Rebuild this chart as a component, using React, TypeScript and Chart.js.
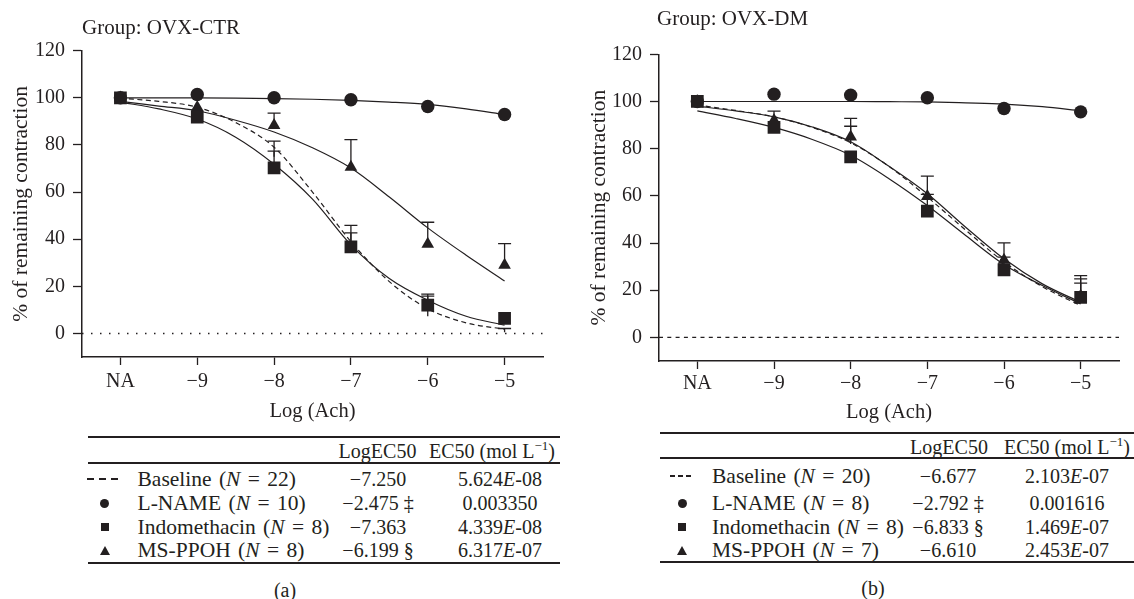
import React, { useEffect, useRef } from 'react';
import { Chart, registerables } from 'chart.js';

Chart.register(...registerables);

const FONT = '"Liberation Serif", "Times New Roman", serif';
const INK = '#231f20';

// ---------- shared axes ----------
const xMin = -10.5;
const xMax = -4.5;
const yMin = -10;
const yMax = 120;
const xValues = [-10, -9, -8, -7, -6, -5];
const xTickLabels = ['NA', '−9', '−8', '−7', '−6', '−5'];
const yTickValues = [0, 20, 40, 60, 80, 100, 120];
const curveX = [-10, -9.5, -9, -8.5, -8, -7.5, -7, -6.5, -6, -5.5, -5];

// ---------- panel (a) OVX-CTR ----------
const lnameA = [100, 101.4, 100, 99.2, 96.3, 92.9];
const indoA = [100, 91.8, 70.3, 36.7, 12.0, 6.4];
const msppohA = [100, 96, 88.3, 70.6, 37.9, 29];
const baselineA = [100, 96, 75, 39, 7.3, 0.5];
const indoSemA = [0, 0, 7.1, 6, 4.7, 0];
const msppohSemA = [0, 0, 5.2, 11.7, 9.3, 9.1];
const baselineSemA = [0, 0, 6.6, 6.9, 8.5, 1.6];
const lnameCurveA = [100, 100, 100, 99.9, 99.7, 99.4, 98.9, 98.2, 97.2, 95.3, 92.9];
const indoCurveA = [98.2, 95.3, 91.0, 83.3, 71.8, 57, 37.6, 23.3, 14.1, 7.3, 3.5];
const baselineCurveA = [99.8, 98.5, 96, 89.5, 79, 60, 39, 22, 10.5, 4.5, 1.8];
const msppohCurveA = [98.5, 96.5, 94.5, 90.5, 85.5, 78.8, 70.2, 57.9, 44.8, 33.2, 22.3];

// ---------- panel (b) OVX-DM ----------
const lnameB = [100, 103.1, 102.7, 101.6, 97.0, 95.6];
const indoB = [100, 89, 76.5, 53.5, 28.6, 17];
const msppohB = [100, 92, 85, 59.8, 32.8, 17.5];
const baselineB = [100, 93, 82, 58, 32, 16];
const indoSemB = [0, 0, 0, 7.1, 5.4, 6];
const msppohSemB = [0, 3.9, 7.8, 8.6, 7.3, 8.7];
const baselineSemB = [0, 0, 7.5, 0, 0, 8.8];
const lnameCurveB = [100, 100, 100, 100, 100, 99.9, 99.8, 99.4, 98.9, 97.8, 96.0];
const indoCurveB = [96, 92.8, 89, 83.9, 77.2, 67.3, 55.9, 43.2, 30.9, 22, 14.2];
const baselineCurveB = [98.5, 96.2, 93.5, 89, 82.5, 72.5, 59.5, 45.5, 32, 21.5, 13.5];
const msppohCurveB = [98, 96, 93.5, 89.2, 82.9, 72.5, 60.9, 46.7, 33.3, 22.7, 14.9];

// ---------- tables ----------
const seriesNames = ['Baseline', 'L-NAME', 'Indomethacin', 'MS-PPOH'];
const nA = [22, 10, 8, 8];
const logEC50A = ['−7.250', '−2.475 ‡', '−7.363', '−6.199 §'];
const ec50A = ['5.624E-08', '0.003350', '4.339E-08', '6.317E-07'];
const nB = [20, 8, 8, 7];
const logEC50B = ['−6.677', '−2.792 ‡', '−6.833 §', '−6.610'];
const ec50B = ['2.103E-07', '0.001616', '1.469E-07', '2.453E-07'];

const toPts = (xs: number[], ys: number[]) => xs.map((x, i) => ({ x, y: ys[i] }));

const errorBarPlugin = {
  id: 'errorBars',
  beforeDatasetsDraw(chart: any) {
    const { ctx } = chart;
    const xs = chart.scales.x;
    const ys = chart.scales.y;
    ctx.save();
    ctx.strokeStyle = INK;
    ctx.lineWidth = 1.3;
    chart.data.datasets.forEach((ds: any) => {
      if (!ds.sem) return;
      ds.data.forEach((p: any, i: number) => {
        const s = ds.sem[i];
        if (!s) return;
        const px = xs.getPixelForValue(p.x);
        const p0 = ys.getPixelForValue(p.y);
        const p1 = ys.getPixelForValue(p.y + s);
        ctx.beginPath();
        ctx.moveTo(px, p0);
        ctx.lineTo(px, p1);
        ctx.moveTo(px - 6.5, p1);
        ctx.lineTo(px + 6.5, p1);
        ctx.stroke();
      });
    });
    ctx.restore();
  },
};

type PanelData = {
  lname: number[];
  indo: number[];
  msppoh: number[];
  baseline: number[];
  indoSem: number[];
  msppohSem: number[];
  baselineSem: number[];
  lnameCurve: number[];
  indoCurve: number[];
  baselineCurve: number[];
  msppohCurve: number[];
};

type Geo = {
  left: number;
  width: number;
  height: number;
  padRight: number;
  padTop: number;
  yWidth: number;
  xHeight: number;
  yTitlePad: number;
  xTitlePad: number;
  xTickPad: number;
  zeroDash: number[];
  zeroWidth: number;
};

function ChartPanel({ d, g }: { d: PanelData; g: Geo }) {
  const ref = useRef<HTMLCanvasElement | null>(null);
  useEffect(() => {
    if (!ref.current) return;
    const curve = (ys: number[], dash: number[], order: number) => ({
      type: 'line',
      data: toPts(curveX, ys),
      borderColor: INK,
      borderWidth: 1.2,
      borderDash: dash,
      pointRadius: 0,
      cubicInterpolationMode: 'monotone',
      fill: false,
      order,
    });
    const markers = (ys: number[], style: string, radius: number, order: number, sem?: number[]) => ({
      type: 'line',
      data: toPts(xValues, ys),
      showLine: false,
      pointStyle: style,
      pointRadius: radius,
      pointBackgroundColor: INK,
      pointBorderColor: INK,
      pointBorderWidth: 0,
      sem,
      order,
    });
    const chart = new Chart(ref.current, {
      type: 'line',
      data: {
        datasets: [
          {
            type: 'line',
            data: [
              { x: xMin, y: 0 },
              { x: xMax, y: 0 },
            ],
            borderColor: INK,
            borderWidth: g.zeroWidth,
            borderDash: g.zeroDash,
            pointRadius: 0,
            order: 20,
          },
          curve(d.lnameCurve, [], 12),
          curve(d.baselineCurve, [5, 3.5], 11),
          curve(d.msppohCurve, [], 10),
          curve(d.indoCurve, [], 9),
          { ...markers(d.baseline, 'circle', 0, 8, d.baselineSem), pointRadius: 0 },
          markers(d.lname, 'circle', 6.7, 3),
          markers(d.msppoh, 'triangle', 7.3, 2, d.msppohSem),
          markers(d.indo, 'rect', 9, 1, d.indoSem),
        ] as any,
      },
      options: {
        animation: false,
        responsive: false,
        maintainAspectRatio: false,
        events: [],
        layout: { padding: { left: 0, right: g.padRight, top: g.padTop, bottom: 0 } },
        plugins: {
          legend: { display: false },
          tooltip: { enabled: false },
          title: { display: false },
        },
        scales: {
          x: {
            type: 'linear',
            min: xMin,
            max: xMax,
            afterBuildTicks: (s: any) => {
              s.ticks = xValues.map((v) => ({ value: v }));
            },
            afterFit: (s: any) => {
              s.height = g.xHeight;
            },
            ticks: {
              autoSkip: false,
              maxRotation: 0,
              padding: g.xTickPad,
              color: INK,
              font: { family: FONT, size: 20, lineHeight: 1 },
              callback: (v: any) => {
                const i = xValues.indexOf(Number(v));
                return i >= 0 ? xTickLabels[i] : '';
              },
            },
            grid: {
              drawOnChartArea: false,
              drawTicks: true,
              tickLength: 8,
              tickWidth: 1.3,
              tickColor: INK,
              color: INK,
            },
            border: { display: true, color: INK, width: 1.5 },
            title: {
              display: true,
              text: 'Log (Ach)',
              color: INK,
              font: { family: FONT, size: 20.5, lineHeight: 1.2 },
              padding: { top: 0, bottom: g.xTitlePad },
            },
          },
          y: {
            type: 'linear',
            min: yMin,
            max: yMax,
            afterBuildTicks: (s: any) => {
              s.ticks = yTickValues.map((v) => ({ value: v }));
            },
            afterFit: (s: any) => {
              s.width = g.yWidth;
            },
            ticks: {
              padding: 8,
              color: INK,
              font: { family: FONT, size: 20, lineHeight: 1 },
            },
            grid: {
              drawOnChartArea: false,
              drawTicks: true,
              tickLength: 9,
              tickWidth: 1.3,
              tickColor: INK,
              color: INK,
            },
            border: { display: true, color: INK, width: 1.5 },
            title: {
              display: true,
              text: '% of remaining contraction',
              color: INK,
              font: { family: FONT, size: 21.5, lineHeight: 1.2 },
              padding: { top: g.yTitlePad, bottom: 0 },
            },
          },
        },
      } as any,
      plugins: [errorBarPlugin],
    });
    return () => chart.destroy();
  }, []);
  return (
    <canvas
      ref={ref}
      width={g.width}
      height={g.height}
      style={{ position: 'absolute', left: g.left, top: 0, width: g.width, height: g.height }}
    />
  );
}

const textBase: React.CSSProperties = {
  position: 'absolute',
  fontFamily: FONT,
  fontSize: 20,
  color: INK,
  lineHeight: '24px',
  height: 24,
  whiteSpace: 'nowrap',
};

function Sci({ s }: { s: string }) {
  const i = s.indexOf('E');
  if (i < 0) return <>{s}</>;
  return (
    <>
      {s.slice(0, i)}
      <i>E</i>
      {s.slice(i + 1)}
    </>
  );
}

function Marker({ kind, cx, cy, dashW }: { kind: number; cx: number; cy: number; dashW: number }) {
  if (kind === 0) {
    const seg = dashW / 3;
    return (
      <>
        {[0, 1, 2].map((k) => (
          <div
            key={k}
            style={{
              position: 'absolute',
              left: cx - dashW / 2 + k * seg,
              top: cy - 0.7,
              width: seg * 0.62,
              height: 1.4,
              background: INK,
            }}
          />
        ))}
      </>
    );
  }
  if (kind === 1)
    return (
      <div
        style={{ position: 'absolute', left: cx - 4.5, top: cy - 4.5, width: 9, height: 9, borderRadius: '50%', background: INK }}
      />
    );
  if (kind === 2)
    return <div style={{ position: 'absolute', left: cx - 4, top: cy - 4, width: 8, height: 8, background: INK }} />;
  return (
    <div
      style={{
        position: 'absolute',
        left: cx - 5,
        top: cy - 4.5,
        width: 0,
        height: 0,
        borderLeft: '5px solid transparent',
        borderRight: '5px solid transparent',
        borderBottom: `9px solid ${INK}`,
      }}
    />
  );
}

type TGeo = {
  left: number;
  right: number;
  lineW: number;
  lineTop: number;
  header: number;
  lineMid: number;
  rows: number[];
  lineBottom: number;
  markerX: number;
  dashW: number;
  labelX: number;
  logCenter: number;
  logHeadCenter: number;
  ecCenter: number;
  ecHeadCenter: number;
  capX: number;
  capY: number;
  caption: string;
};

function Table({ t, n, logs, ecs }: { t: TGeo; n: number[]; logs: string[]; ecs: string[] }) {
  const hline = (y: number) => (
    <div style={{ position: 'absolute', left: t.left, top: y - t.lineW / 2, width: t.right - t.left, height: t.lineW, background: INK }} />
  );
  const centered = (cx: number, cy: number, content: React.ReactNode, key?: any) => (
    <div key={key} style={{ ...textBase, left: cx - 150, width: 300, top: cy - 12, textAlign: 'center' }}>
      {content}
    </div>
  );
  return (
    <>
      {hline(t.lineTop)}
      {centered(t.logHeadCenter, t.header, 'LogEC50')}
      {centered(
        t.ecHeadCenter,
        t.header,
        <>
          EC50 (mol L<sup style={{ fontSize: 13, lineHeight: 0 }}>−1</sup>)
        </>
      )}
      {hline(t.lineMid)}
      {seriesNames.map((name, i) => (
        <React.Fragment key={name}>
          <Marker kind={i} cx={t.markerX} cy={t.rows[i]} dashW={t.dashW} />
          <div style={{ ...textBase, fontSize: 21.5, wordSpacing: 2, left: t.labelX, top: t.rows[i] - 12 }}>
            {name} (<i>N</i> = {n[i]})
          </div>
          {centered(t.logCenter, t.rows[i], logs[i])}
          {centered(t.ecCenter, t.rows[i], <Sci s={ecs[i]} />)}
        </React.Fragment>
      ))}
      {hline(t.lineBottom)}
      {centered(t.capX, t.capY, t.caption)}
    </>
  );
}

export default function App() {
  const dA: PanelData = {
    lname: lnameA,
    indo: indoA,
    msppoh: msppohA,
    baseline: baselineA,
    indoSem: indoSemA,
    msppohSem: msppohSemA,
    baselineSem: baselineSemA,
    lnameCurve: lnameCurveA,
    indoCurve: indoCurveA,
    baselineCurve: baselineCurveA,
    msppohCurve: msppohCurveA,
  };
  const dB: PanelData = {
    lname: lnameB,
    indo: indoB,
    msppoh: msppohB,
    baseline: baselineB,
    indoSem: indoSemB,
    msppohSem: msppohSemB,
    baselineSem: baselineSemB,
    lnameCurve: lnameCurveB,
    indoCurve: indoCurveB,
    baselineCurve: baselineCurveB,
    msppohCurve: msppohCurveB,
  };
  const gA: Geo = {
    left: 0,
    width: 560,
    height: 430,
    padRight: 17,
    padTop: 50.7,
    yWidth: 82,
    xHeight: 73,
    yTitlePad: 8,
    xTitlePad: 6,
    xTickPad: 7,
    zeroDash: [1.5, 7.5],
    zeroWidth: 1.4,
  };
  const gB: Geo = {
    left: 574,
    width: 560,
    height: 430,
    padRight: 15,
    padTop: 54.3,
    yWidth: 85,
    xHeight: 69,
    yTitlePad: 12.5,
    xTitlePad: 5,
    xTickPad: 5,
    zeroDash: [4, 4.3],
    zeroWidth: 1.2,
  };
  const tA: TGeo = {
    left: 87.5,
    right: 560,
    lineW: 1.4,
    lineTop: 437,
    header: 451,
    lineMid: 463,
    rows: [479, 503, 527, 550],
    lineBottom: 563,
    markerX: 104.6,
    dashW: 36,
    labelX: 137.5,
    logCenter: 378,
    logHeadCenter: 377.5,
    ecCenter: 500,
    ecHeadCenter: 492,
    capX: 285,
    capY: 590,
    caption: '(a)',
  };
  const tB: TGeo = {
    left: 660,
    right: 1134,
    lineW: 2,
    lineTop: 433,
    header: 447,
    lineMid: 458,
    rows: [476, 503, 527, 550],
    lineBottom: 562,
    markerX: 682,
    dashW: 25,
    labelX: 712,
    logCenter: 948,
    logHeadCenter: 949,
    ecCenter: 1067,
    ecHeadCenter: 1067,
    capX: 873,
    capY: 588,
    caption: '(b)',
  };
  return (
    <div style={{ position: 'absolute', left: 0, top: 0, width: 1134, height: 599, background: '#fff', overflow: 'hidden' }}>
      <ChartPanel d={dA} g={gA} />
      <ChartPanel d={dB} g={gB} />
      <div style={{ ...textBase, fontSize: 21, left: 82, top: 27 - 12 }}>Group: OVX-CTR</div>
      <div style={{ ...textBase, fontSize: 21, left: 657, top: 18 - 12 }}>Group: OVX-DM</div>
      <Table t={tA} n={nA} logs={logEC50A} ecs={ec50A} />
      <Table t={tB} n={nB} logs={logEC50B} ecs={ec50B} />
    </div>
  );
}
